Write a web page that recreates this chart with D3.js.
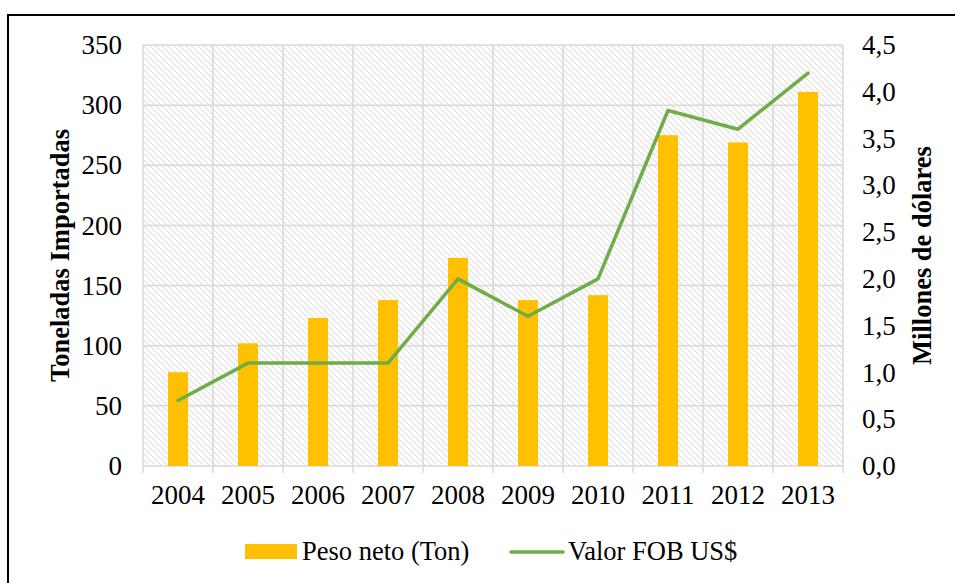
<!DOCTYPE html>
<html>
<head>
<meta charset="utf-8">
<script src="https://cdn.jsdelivr.net/npm/d3@7"></script>
<style>
  body { margin: 0; background: #fff; }
  svg text { font-family: "Liberation Serif", "Times New Roman", serif; fill: #000; }
</style>
</head>
<body>
<div id="chart"></div>
<script>
var years = ["2004", "2005", "2006", "2007", "2008", "2009", "2010", "2011", "2012", "2013"];
var pesoNeto = [78, 102, 123, 138, 173, 138, 142, 275, 269, 311];
var valorFob = [0.7, 1.1, 1.1, 1.1, 2.0, 1.6, 2.0, 3.8, 3.6, 4.2];
var leftTicks = [0, 50, 100, 150, 200, 250, 300, 350];
var rightTicks = [0, 0.5, 1, 1.5, 2, 2.5, 3, 3.5, 4, 4.5];

var W = 955, H = 583;
var margin = {top: 45, right: 112, bottom: 117, left: 143},
    width = W - margin.left - margin.right,
    height = H - margin.top - margin.bottom;
var serif = "'Liberation Serif', 'Times New Roman', serif";

var svg = d3.select("#chart").append("svg")
    .attr("width", W)
    .attr("height", H);

// outer frame
svg.append("rect")
    .attr("x", 8).attr("y", 15)
    .attr("width", W + 10).attr("height", H + 10)
    .attr("fill", "none")
    .attr("stroke", "#000")
    .attr("stroke-width", 2);

// hatch pattern for the plot background
var pat = svg.append("defs").append("pattern")
    .attr("id", "hatch")
    .attr("patternUnits", "userSpaceOnUse")
    .attr("width", 6).attr("height", 6);
pat.append("path")
    .attr("d", "M-3,3 L3,9 M0,0 L6,6 M3,-3 L9,3")
    .attr("stroke", "#e0e0e0")
    .attr("stroke-width", 1.1);

var g = svg.append("g")
    .attr("transform", "translate(" + margin.left + "," + margin.top + ")");

var x = d3.scaleBand()
    .domain(years)
    .range([0, width]);
var y = d3.scaleLinear()
    .domain([0, 350])
    .range([height, 0]);
var y2 = d3.scaleLinear()
    .domain([0, 4.5])
    .range([height, 0]);

g.append("rect")
    .attr("width", width)
    .attr("height", height)
    .attr("fill", "url(#hatch)");

// horizontal gridlines
g.selectAll(".hgrid")
    .data(leftTicks)
    .enter().append("line")
    .attr("class", "hgrid")
    .attr("x1", 0).attr("x2", width)
    .attr("y1", function (d) { return y(d); })
    .attr("y2", function (d) { return y(d); })
    .attr("stroke", "#d9d9d9")
    .attr("stroke-width", 1.5);

// vertical gridlines (category boundaries), with tick marks below the axis
var bounds = years.map(function (d) { return x(d); }).concat([width]);
g.selectAll(".vgrid")
    .data(bounds)
    .enter().append("line")
    .attr("class", "vgrid")
    .attr("x1", function (d) { return d; })
    .attr("x2", function (d) { return d; })
    .attr("y1", 0).attr("y2", height + 7)
    .attr("stroke", "#d9d9d9")
    .attr("stroke-width", 1.5);

// bars
var barW = 20;
g.selectAll(".bar")
    .data(pesoNeto)
    .enter().append("rect")
    .attr("class", "bar")
    .attr("x", function (d, i) { return x(years[i]) + x.bandwidth() / 2 - barW / 2; })
    .attr("width", barW)
    .attr("y", function (d) { return y(d); })
    .attr("height", function (d) { return height - y(d); })
    .attr("fill", "#ffc000");

// line
var line = d3.line()
    .x(function (d, i) { return x(years[i]) + x.bandwidth() / 2; })
    .y(function (d) { return y2(d); });
g.append("path")
    .datum(valorFob)
    .attr("d", line)
    .attr("fill", "none")
    .attr("stroke", "#70ad47")
    .attr("stroke-width", 3.5)
    .attr("stroke-linejoin", "round")
    .attr("stroke-linecap", "round");

// left axis
var yAxis = g.append("g")
    .attr("font-family", serif)
    .call(d3.axisLeft(y).tickValues(leftTicks).tickSize(0).tickPadding(21));
yAxis.select(".domain").remove();
yAxis.selectAll("text").style("font-size", "27px");

// right axis
var y2Axis = g.append("g")
    .attr("font-family", serif)
    .attr("transform", "translate(" + width + ",0)")
    .call(d3.axisRight(y2).tickValues(rightTicks).tickSize(0).tickPadding(19)
        .tickFormat(function (d) { return d3.format(".1f")(d).replace(".", ","); }));
y2Axis.select(".domain").remove();
y2Axis.selectAll("text").style("font-size", "27px");

// bottom axis
var xAxis = g.append("g")
    .attr("font-family", serif)
    .attr("transform", "translate(0," + height + ")")
    .call(d3.axisBottom(x).tickSize(0).tickPadding(19));
xAxis.select(".domain").remove();
xAxis.selectAll("text").style("font-size", "27px");

// axis titles
svg.append("text")
    .attr("transform", "rotate(-90)")
    .attr("x", -(margin.top + height / 2))
    .attr("y", 69)
    .style("text-anchor", "middle")
    .style("font-size", "26.5px")
    .style("font-weight", "bold")
    .text("Toneladas Importadas");

svg.append("text")
    .attr("transform", "rotate(-90)")
    .attr("x", -(margin.top + height / 2))
    .attr("y", 931)
    .style("text-anchor", "middle")
    .style("font-size", "26.5px")
    .style("font-weight", "bold")
    .text("Millones de dólares");

// legend
var legend = svg.append("g");
legend.append("rect")
    .attr("x", 245).attr("y", 544)
    .attr("width", 52).attr("height", 15)
    .attr("fill", "#ffc000");
legend.append("text")
    .attr("x", 302).attr("y", 560)
    .style("font-size", "26.5px")
    .text("Peso neto (Ton)");
legend.append("line")
    .attr("x1", 511).attr("x2", 563)
    .attr("y1", 552).attr("y2", 552)
    .attr("stroke", "#70ad47")
    .attr("stroke-width", 3.5)
    .attr("stroke-linecap", "round");
legend.append("text")
    .attr("x", 568).attr("y", 560)
    .style("font-size", "26.5px")
    .text("Valor FOB US$");
</script>
</body>
</html>
